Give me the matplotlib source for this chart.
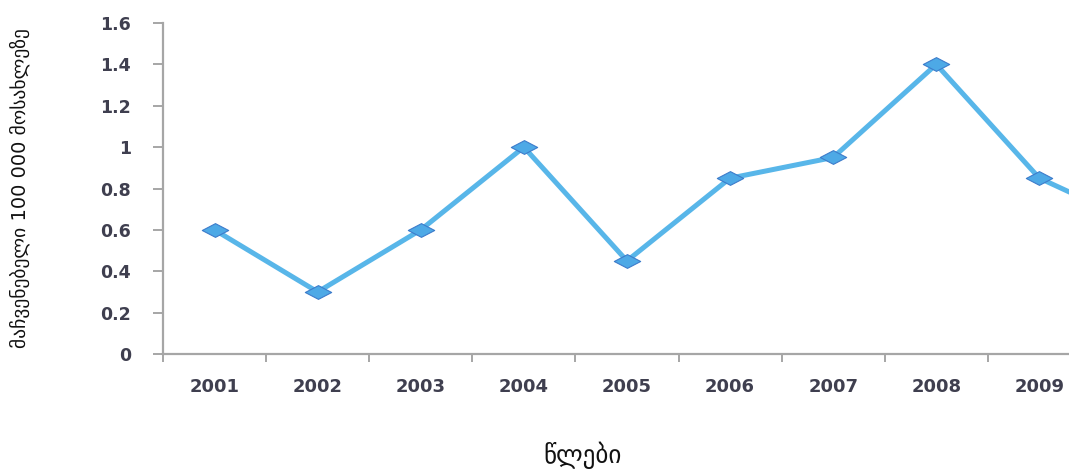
import matplotlib.pyplot as plt
from matplotlib.path import Path
from matplotlib.ticker import FixedLocator, FuncFormatter

years = ["2001", "2002", "2003", "2004", "2005", "2006", "2007", "2008", "2009", "2010"]
rate = [0.6, 0.3, 0.6, 1.0, 0.45, 0.85, 0.95, 1.4, 0.85, 0.62]
y_ticks = [0, 0.2, 0.4, 0.6, 0.8, 1.0, 1.2, 1.4, 1.6]

# flat diamond marker
diamond = Path([(-1, 0), (0, 0.52), (1, 0), (0, -0.52), (-1, 0)],
               [Path.MOVETO, Path.LINETO, Path.LINETO, Path.LINETO, Path.CLOSEPOLY])

fig = plt.figure(figsize=(10.69, 4.70), dpi=100)
ax = fig.add_axes([163 / 1069, 116 / 470, 1 - 163 / 1069, (354 - 23) / 470])

x = list(range(1, len(years) + 1))
ax.plot(x, rate, color="#58B6E9", lw=3.6, marker=diamond, ms=19,
        mfc="#4DA9E6", mec="#3D7CCB", mew=0.8, solid_joinstyle="miter", clip_on=False)

ax.set_ylim(0, 1.6)
ax.set_xlim(0.5, 0.5 + (1069 - 163) / 103.1)

grey = "#A6A6A6"
for s in ("top", "right"):
    ax.spines[s].set_visible(False)
for s in ("left", "bottom"):
    ax.spines[s].set_color(grey)
    ax.spines[s].set_linewidth(1.6)

ax.set_yticks(y_ticks)
ax.yaxis.set_major_formatter(FuncFormatter(lambda v, p: "%g" % v))
ax.tick_params(axis="y", length=7, width=1.4, color=grey, pad=16,
               labelsize=12.5, labelcolor="#3F3F4F")
for t in ax.get_yticklabels():
    t.set_fontweight("bold")

# category axis: tick marks between years, labels centred on years
ax.xaxis.set_major_locator(FixedLocator([i + 0.5 for i in range(0, len(years) + 1)]))
ax.xaxis.set_major_formatter(FuncFormatter(lambda v, p: ""))
ax.xaxis.set_minor_locator(FixedLocator(x))
ax.xaxis.set_minor_formatter(FuncFormatter(lambda v, p: years[int(round(v)) - 1]))
ax.tick_params(axis="x", which="major", length=6, width=1.4, color=grey)
ax.tick_params(axis="x", which="minor", length=0, pad=17,
               labelsize=13, labelcolor="#3F3F4F")
for t in ax.get_xticklabels(minor=True):
    t.set_fontweight("bold")

fig.text(20 / 1069, 1 - 188 / 470, "მაჩვენებელი 100 000 მოსახლეზე", rotation=90,
         ha="center", va="center", fontsize=14, color="#111111")
fig.text(583 / 1069, 1 - 455 / 470, "წლები", ha="center", va="center",
         fontsize=18, color="#111111")

fig.savefig("out.png", dpi=100)
